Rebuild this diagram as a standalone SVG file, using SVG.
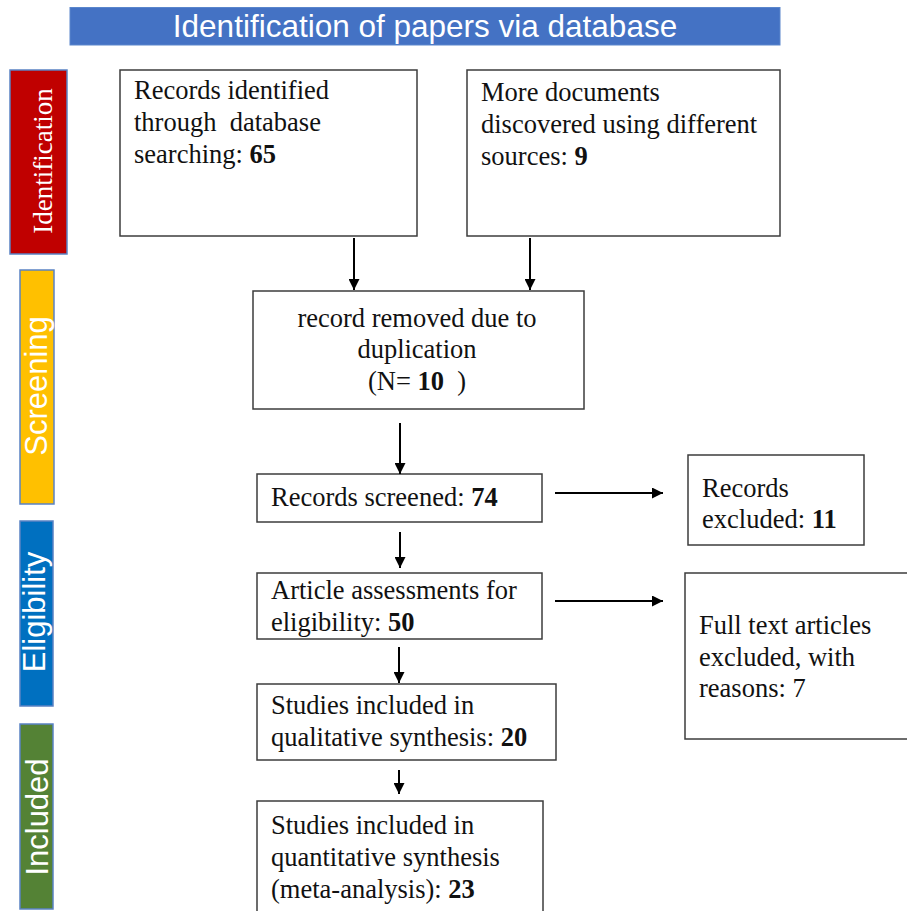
<svg xmlns="http://www.w3.org/2000/svg" width="907" height="911" viewBox="0 0 907 911">
<style>
.box{fill:#ffffff;stroke:#3c3c3c;stroke-width:1.5}
.t{font-family:"Liberation Serif","Times New Roman",serif;font-size:26.5px;fill:#111111}
.b{font-weight:bold}
.bar{stroke:#5a82c4;stroke-width:1.5}
.lab{font-family:"Liberation Sans",Arial,sans-serif;font-size:31px;fill:#ffffff}
.conn{stroke:#000000;stroke-width:2;fill:none;marker-end:url(#ah)}
</style>
<defs>
<marker id="ah" markerUnits="userSpaceOnUse" markerWidth="11" markerHeight="11" refX="11" refY="5.5" orient="auto">
<path d="M0,0 L11,5.5 L0,11 Z" fill="#000000"/>
</marker>
</defs>
<rect width="907" height="911" fill="#ffffff"/>

<g id="title">
<rect x="70" y="7.5" width="710" height="37.5" fill="#4472C4" stroke="#5a86cc" stroke-width="1"/>
<text x="425" y="37" text-anchor="middle" font-family="Liberation Sans, Arial, sans-serif" font-size="31.5" fill="#ffffff">Identification of papers via database</text>
</g>

<g id="stage-identification">
<rect class="bar" x="10" y="70" width="57" height="184" fill="#C00000"/>
<text transform="translate(52,161) rotate(-90)" text-anchor="middle" font-family="Liberation Serif, Times New Roman, serif" font-size="27" fill="#ffffff">Identification</text>
</g>
<g id="stage-screening">
<rect class="bar" x="20" y="270" width="34" height="234" fill="#FFC000"/>
<text class="lab" transform="translate(47,386) rotate(-90)" text-anchor="middle">Screening</text>
</g>
<g id="stage-eligibility">
<rect class="bar" x="20" y="521" width="33" height="185" fill="#0070C0"/>
<text class="lab" transform="translate(45,612) rotate(-90)" text-anchor="middle">Eligibility</text>
</g>
<g id="stage-included">
<rect class="bar" x="20" y="724" width="33" height="185" fill="#548235"/>
<text class="lab" transform="translate(48,817) rotate(-90)" text-anchor="middle">Included</text>
</g>

<g id="n-database">
<rect class="box" x="120" y="70" width="297" height="166"/>
<text class="t" xml:space="preserve"><tspan x="134" y="99">Records identified</tspan><tspan x="134" y="131">through  database</tspan><tspan x="134" y="163">searching: <tspan class="b">65</tspan></tspan></text>
</g>
<g id="n-other">
<rect class="box" x="467" y="70" width="313" height="166"/>
<text class="t"><tspan x="481" y="101">More documents</tspan><tspan x="481" y="133">discovered using different</tspan><tspan x="481" y="165">sources: <tspan class="b">9</tspan></tspan></text>
</g>
<g id="n-duplicates">
<rect class="box" x="253" y="291" width="331" height="118"/>
<text class="t" text-anchor="middle" xml:space="preserve"><tspan x="417" y="327">record removed due to</tspan><tspan x="417" y="358">duplication</tspan><tspan x="417" y="390">(N= <tspan class="b">10</tspan>  )</tspan></text>
</g>
<g id="n-screened">
<rect class="box" x="257" y="474" width="285" height="48"/>
<text class="t" x="271" y="506">Records screened: <tspan class="b">74</tspan></text>
</g>
<g id="n-excluded">
<rect class="box" x="688" y="455" width="176" height="90"/>
<text class="t"><tspan x="702" y="497">Records</tspan><tspan x="702" y="528">excluded: <tspan class="b">11</tspan></tspan></text>
</g>
<g id="n-eligibility">
<rect class="box" x="257" y="573" width="285" height="66"/>
<text class="t"><tspan x="271" y="599">Article assessments for</tspan><tspan x="271" y="631">eligibility: <tspan class="b">50</tspan></tspan></text>
</g>
<g id="n-fulltext">
<rect class="box" x="685" y="573" width="223" height="166"/>
<text class="t"><tspan x="699" y="634">Full text articles</tspan><tspan x="699" y="666">excluded, with</tspan><tspan x="699" y="697">reasons: 7</tspan></text>
</g>
<g id="n-qualitative">
<rect class="box" x="257" y="684" width="299" height="76"/>
<text class="t"><tspan x="271" y="714">Studies included in</tspan><tspan x="271" y="746">qualitative synthesis: <tspan class="b">20</tspan></tspan></text>
</g>
<g id="n-quantitative">
<rect class="box" x="257" y="801" width="286" height="120"/>
<text class="t"><tspan x="271" y="834">Studies included in</tspan><tspan x="271" y="866">quantitative synthesis</tspan><tspan x="271" y="898">(meta-analysis): <tspan class="b">23</tspan></tspan></text>
</g>

<g id="connectors">
<line class="conn" x1="354" y1="238" x2="354" y2="290"/>
<line class="conn" x1="530" y1="238" x2="530" y2="290"/>
<line class="conn" x1="400" y1="423" x2="400" y2="474"/>
<line class="conn" x1="400" y1="532" x2="400" y2="568"/>
<line class="conn" x1="399" y1="647" x2="399" y2="683"/>
<line class="conn" x1="399" y1="770" x2="399" y2="794"/>
<line class="conn" x1="555" y1="493" x2="663" y2="493"/>
<line class="conn" x1="555" y1="601" x2="663" y2="601"/>
</g>
</svg>
